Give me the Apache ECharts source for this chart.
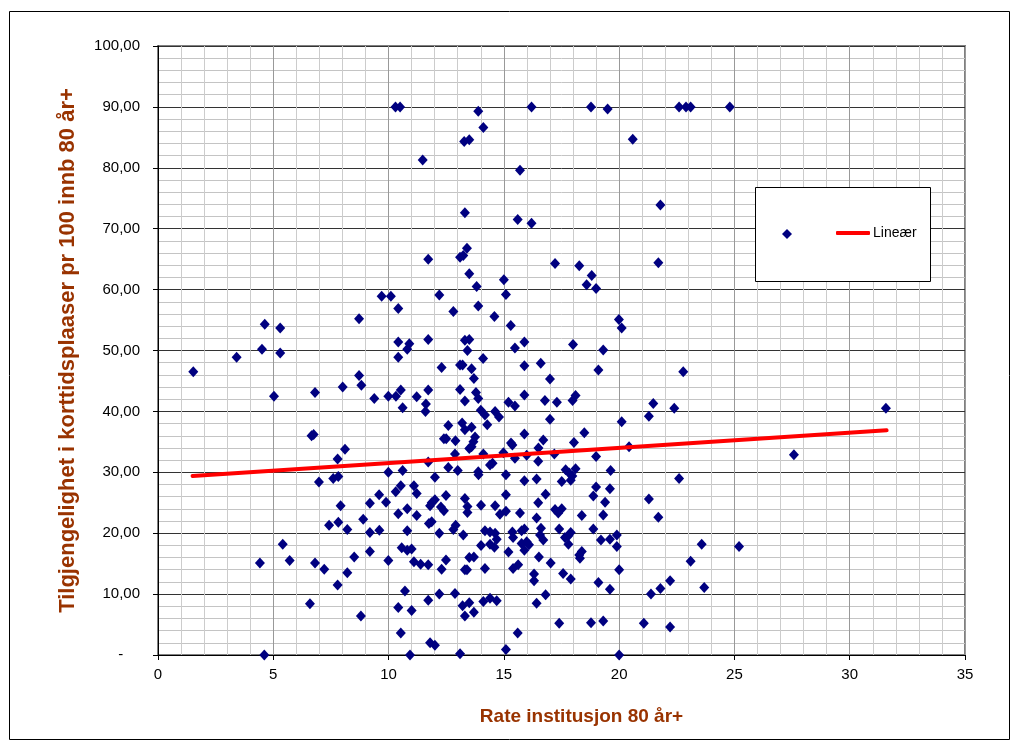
<!DOCTYPE html>
<html>
<head>
<meta charset="utf-8">
<script src="https://cdn.jsdelivr.net/npm/echarts@6/dist/echarts.min.js"></script>
<style>
html,body{margin:0;padding:0;background:#fff;}
#chart{width:1019px;height:749px;}
</style>
</head>
<body>
<div id="chart"></div>
<script>
// x: Rate institusjon 80 år+
const rateInstitusjon = [
10.3,10.5,16.2,18.78,19.5,22.6,22.9,23.1,24.8,13.89,14.11,13.28,13.5,20.59,15.7,11.48,13.31,15.6,16.2,21.79,13.4,
11.72,9.7,10.1,10.42,8.72,4.63,5.3,10.42,10.9,10.81,4.51,5.3,10.42,3.41,1.53,8.72,8.82,8.01,6.81,5.03,9.38,9.99,10.32,10.53,11.22,10.61,11.62,11.6,6.66,6.75,8.11,7.79,
13.1,13.24,17.22,18.27,21.7,13.5,18.81,15.0,13.82,18.59,19.0,15.09,12.2,13.89,12.81,14.59,15.3,19.99,20.11,11.72,13.31,13.5,15.89,18.0,13.42,15.48,19.31,14.1,13.1,13.21,12.3,13.6,15.89,16.6,19.1,22.78,13.7,17.0,11.72,13.1,13.79,13.89,13.31,15.89,15.2,15.48,16.78,17.3,17.98,18.11,21.48,22.39,21.29,20.11,17.0,14.0,14.18,14.28,14.62,14.79,12.59,13.19,13.31,13.6,12.4,12.5,12.9,13.75,13.68,13.5,13.6,15.89,15.31,15.37,16.71,16.5,18.04,18.49,20.43,12.88,14.11,14.98,15.48,15.99,17.19,19.0,16.49,
11.72,12.59,13.0,13.89,13.9,14.4,14.51,15.09,12.01,15.89,16.42,17.51,17.68,17.83,17.97,18.11,17.9,19.63,22.6,19.0,19.6,18.88,19.39,16.81,16.49,15.09,13.31,12.49,12.01,11.87,11.8,12.27,12.4,13.42,13.42,14.01,14.62,14.83,15.09,15.7,16.42,17.22,17.36,17.51,18.38,19.31,11.75,11.87,12.2,12.81,12.91,13.24,14.18,14.4,14.62,14.69,14.01,14.4,14.59,15.37,15.4,15.77,15.89,15.77,15.99,16.09,15.89,15.2,16.61,16.57,16.71,17.4,17.65,17.8,17.9,17.8,18.88,19.21,19.6,19.9,19.9,18.27,18.38,18.3,16.52,17.03,17.57,17.9,19.1,19.6,20.0,11.72,12.3,12.49,13.31,13.4,13.5,13.7,14.18,15.4,15.62,16.31,16.31,11.72,12.2,12.88,13.21,13.5,13.31,13.7,14.11,14.4,14.69,16.42,16.81,17.4,18.78,19.31,21.07,22.21,21.38,21.79,22.21,21.29,21.7,23.1,15.6,15.09,11.8,12.01,13.1,20.0,
9.99,10.61,6.98,7.6,7.82,10.53,10.31,11.1,11.22,9.59,9.19,9.89,7.92,10.81,10.42,11.22,8.9,7.82,7.42,8.21,9.19,9.6,10.81,5.41,10.57,10.81,11.0,8.51,9.19,9.99,11.1,11.39,4.42,5.71,6.81,7.21,8.21,7.79,10.71,6.59,10.42,11.0,8.8,10.53,4.61,10.93,
23.58,25.2,23.69,31.57,27.58
];
// y: Tilgjengelighet i korttidsplaaser pr 100 innb 80 år+
const tilgjengelighet = [
90,90,90,90,89.65,90,90,90,90,89.3,86.6,84.3,84.6,84.7,79.6,81.3,72.6,71.5,70.9,73.9,66.8,
65.0,58.9,58.9,56.9,55.2,54.3,53.7,51.4,51.1,50.2,50.2,49.6,48.9,48.9,46.5,45.9,44.3,44.0,43.1,42.5,42.1,42.5,42.5,43.5,42.4,40.6,41.2,40.0,36.0,36.2,33.8,32.2,
65.3,65.6,64.3,63.9,64.4,62.6,62.3,61.6,60.5,60.8,60.2,59.2,59.1,57.3,56.4,55.6,54.1,55.1,53.7,51.8,51.7,51.8,51.4,51.0,50.0,50.4,50.1,48.7,47.6,47.6,47.2,47.0,47.5,47.9,46.8,46.5,45.4,45.3,43.5,43.6,43.1,42.1,41.7,42.7,41.5,40.9,41.8,41.5,41.8,42.6,41.3,40.5,39.2,38.3,38.7,40.2,39.4,37.8,40.0,39.1,37.7,38.1,37.0,37.4,35.5,35.5,35.2,35.8,35.0,33.9,34.2,36.3,34.8,34.5,35.3,34.0,34.9,36.5,34.2,33.0,33.0,33.2,32.3,32.8,33.0,32.6,31.8,
31.7,30.8,30.3,30.1,29.6,31.2,31.5,29.6,29.2,28.6,28.9,28.5,30.4,29.9,29.4,30.6,28.7,30.3,29.0,27.6,27.3,26.1,25.1,26.4,25.0,26.3,25.7,26.2,25.5,25.0,24.5,24.3,23.7,24.4,23.4,24.6,24.5,23.1,23.6,23.3,22.5,23.9,23.3,24.0,22.9,23.0,21.6,21.9,20.0,20.6,21.3,19.7,20.4,20.2,20.0,19.0,18.0,18.2,17.7,20.2,19.3,20.4,20.7,18.3,18.6,18.1,17.2,16.9,20.8,19.7,18.9,20.7,19.3,19.6,20.1,18.2,20.7,18.9,19.0,19.7,17.8,16.4,17.0,15.9,16.1,15.1,13.4,12.5,11.9,10.8,14.0,14.8,14.1,15.6,14.0,14.0,16.0,16.1,14.2,14.2,14.8,13.3,12.2,9.0,10.0,10.1,8.1,8.6,6.4,7.0,8.8,9.3,8.9,8.5,9.9,5.2,5.3,5.6,5.2,4.6,10.0,10.9,12.2,25.6,22.6,15.4,3.6,0.9,2.0,1.6,0.2,0,
30.0,30.3,28.4,29.0,29.3,27.8,26.8,27.8,26.5,26.3,24.9,25.1,24.5,24.0,23.2,22.9,22.3,21.8,21.3,20.6,20.1,20.5,20.4,18.2,17.6,17.2,17.4,16.1,17.0,15.5,15.3,14.9,15.1,15.5,15.1,14.1,13.5,11.5,10.5,8.4,7.8,7.3,6.4,3.6,0,0,
18.2,17.8,11.1,40.5,32.9
];
// Linear trendline endpoints
const trendX = [1.5, 31.6];
const trendY = [29.4, 36.9];
// Axis tick settings
const xTicks = [0, 35, 5];
const yTicks = [0, 100, 10];

const FONT = '"Liberation Sans", Arial, sans-serif';
const TITLE_COLOR = '#993300';

const scatterData = rateInstitusjon.map((x, i) => [x, tilgjengelighet[i]]);
const trendData = trendX.map((x, i) => [x, trendY[i]]);

const chart = echarts.init(document.getElementById('chart'), null, {renderer: 'canvas'});
chart.setOption({
  backgroundColor: '#ffffff',
  animation: false,
  textStyle: {fontFamily: FONT},
  grid: {
    left: 158, top: 46, width: 807, height: 609,
    show: true, borderColor: '#808080', borderWidth: 2, backgroundColor: '#ffffff'
  },
  graphic: [
    {
      type: 'rect', silent: true, z: -10,
      shape: {x: 9.5, y: 11.5, width: 1000, height: 728},
      style: {fill: 'none', stroke: '#000', lineWidth: 1}
    },
    {
      type: 'rect', silent: true, z: 3,
      shape: {x: 755.5, y: 187.5, width: 175, height: 94},
      style: {fill: '#ffffff', stroke: '#000', lineWidth: 1}
    }
  ],
  legend: [
    {
      left: 782, top: 229, padding: 0, orient: 'horizontal', z: 5,
      itemWidth: 10, itemHeight: 10,
      data: [{name: 'Tilgjengelighet', icon: 'diamond'}],
      formatter: () => '',
      textStyle: {fontSize: 14, color: '#000', fontFamily: FONT}
    },
    {
      left: 836, top: 226, padding: 0, orient: 'horizontal', z: 5,
      itemWidth: 34, itemHeight: 4,
      data: [{name: 'Lineær', icon: 'roundRect'}],
      textStyle: {fontSize: 14, color: '#000', fontFamily: FONT, padding: [0, 0, 0, -2]}
    }
  ],
  xAxis: {
    type: 'value', min: xTicks[0], max: xTicks[1], interval: xTicks[2],
    name: 'Rate institusjon 80 år+', nameLocation: 'middle', nameGap: 52,
    nameTextStyle: {fontSize: 19, fontWeight: 'bold', color: TITLE_COLOR, fontFamily: FONT, padding: [0, 0, 0, 40]},
    axisLine: {show: true, onZero: false, lineStyle: {color: '#000', width: 1}},
    axisTick: {show: true, length: 5, lineStyle: {color: '#000'}},
    axisLabel: {fontSize: 15, color: '#000', margin: 12, fontFamily: FONT},
    splitLine: {show: true, lineStyle: {color: '#999999', width: 1}},
    minorTick: {show: false, splitNumber: 5},
    minorSplitLine: {show: true, lineStyle: {color: '#cccccc', width: 1}}
  },
  yAxis: {
    type: 'value', min: yTicks[0], max: yTicks[1], interval: yTicks[2],
    name: 'Tilgjengelighet i korttidsplaaser pr 100 innb 80 år+', nameLocation: 'middle', nameGap: 79,
    nameTextStyle: {fontSize: 22, fontWeight: 'bold', color: TITLE_COLOR, fontFamily: FONT},
    axisLine: {show: true, onZero: false, lineStyle: {color: '#000', width: 1}},
    axisTick: {show: true, length: 5, lineStyle: {color: '#000'}},
    axisLabel: {
      fontSize: 15, color: '#000', margin: 18, fontFamily: FONT,
      formatter: v => (v === 0 ? '-    ' : v.toFixed(2).replace('.', ','))
    },
    splitLine: {show: true, lineStyle: {color: '#333333', width: 1}},
    minorTick: {show: false, splitNumber: 5},
    minorSplitLine: {show: true, lineStyle: {color: '#c4c4c4', width: 1}}
  },
  series: [
    {
      name: 'Tilgjengelighet', type: 'scatter', data: scatterData,
      symbol: 'diamond', symbolSize: [10, 11],
      itemStyle: {color: '#000080', opacity: 1}, z: 2, clip: false
    },
    {
      name: 'Lineær', type: 'line', data: trendData,
      symbol: 'none', lineStyle: {color: '#ff0000', width: 4, cap: 'round'},
      itemStyle: {color: '#ff0000'}, z: 3
    }
  ]
});
</script>
</body>
</html>
